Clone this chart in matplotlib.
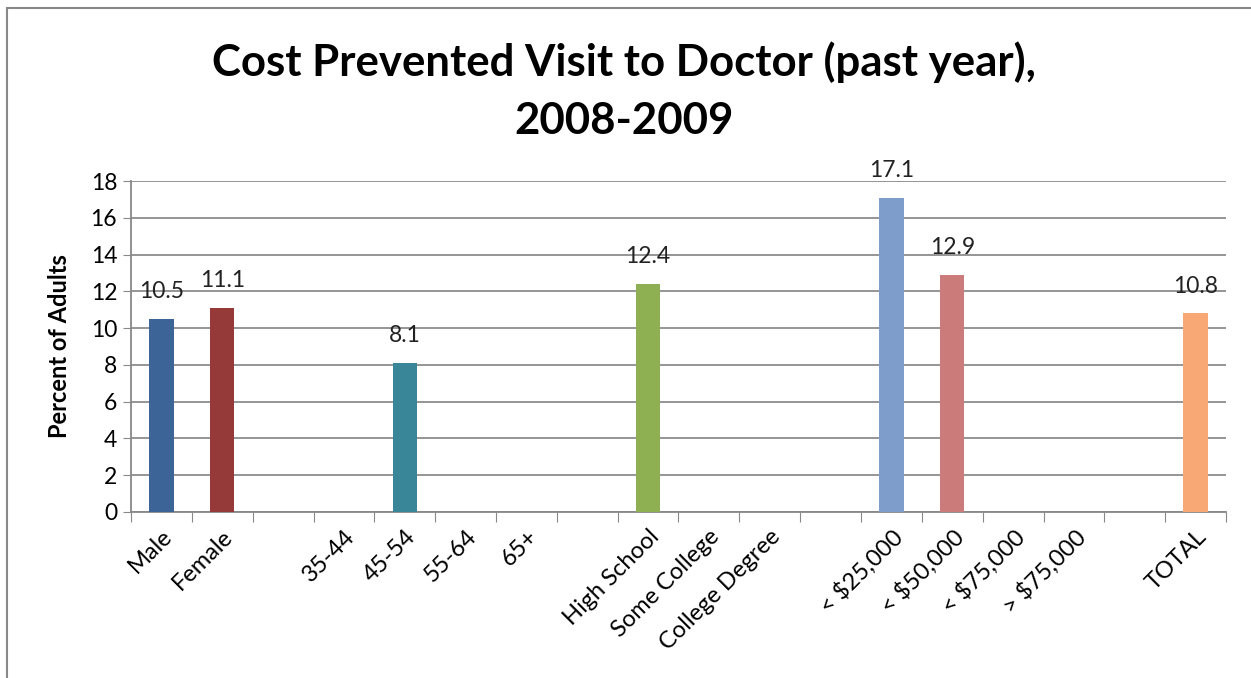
import matplotlib.pyplot as plt
from matplotlib.patches import Rectangle
import numpy as np

plt.rcParams['font.family'] = ['Lato', 'DejaVu Sans']

# categories (blank strings are the empty slots between groups)
labels = ['Male', 'Female', '', '35-44', '45-54', '55-64', '65+', '',
          'High School', 'Some College', 'College Degree', '',
          '< $25,000', '< $50,000', '< $75,000', '> $75,000', '', 'TOTAL']
values = [10.5, 11.1, None, None, 8.1, None, None, None,
          12.4, None, None, None, 17.1, 12.9, None, None, None, 10.8]
colors = ['#3C6496', '#953A38', None, None, '#3A8699', None, None, None,
          '#8FB052', None, None, None, '#7F9DCA', '#CC7B7B', None, None, None, '#F8A874']
y_ticks = [0, 2, 4, 6, 8, 10, 12, 14, 16, 18]

fig = plt.figure(figsize=(12.51, 6.78), dpi=100)
ax = fig.add_axes([131 / 1251, 1 - 512 / 678, (1226 - 131) / 1251, (512 - 181) / 678])

# outer chart border (only top/left visible in the crop)
fig.patches.append(Rectangle((7 / 1251, -0.1), 1.2, 1 - 8 / 678 + 0.1,
                             transform=fig.transFigure, fill=False,
                             edgecolor='#888888', linewidth=1.5))

x = np.arange(len(labels))
for i, v in enumerate(values):
    if v is None:
        continue
    ax.bar(x[i], v, width=0.4, color=colors[i], zorder=3)
    ax.text(x[i], v + 0.9, f'{v:.1f}', ha='center', va='bottom',
            fontsize=16.5, color='#222222')

ax.set_xlim(-0.5, len(labels) - 0.5)
ax.set_ylim(0, 18)
ax.set_yticks(y_ticks)
ax.tick_params(axis='y', labelsize=16.5, length=6, color='#888888', pad=4)
ax.yaxis.grid(True, color='#8C8C8C', linewidth=1.3, zorder=0)

# category boundaries get the tick marks; labels sit at the centers
ax.set_xticks(np.arange(len(labels) + 1) - 0.5)
ax.set_xticklabels([])
ax.tick_params(axis='x', which='major', length=7, color='#888888')
ax.set_xticks(x, minor=True)
ax.set_xticklabels(labels, minor=True, rotation=45, ha='right',
                   rotation_mode='anchor', fontsize=17)
ax.tick_params(axis='x', which='minor', length=0, pad=10)

for s in ['top', 'right']:
    ax.spines[s].set_visible(False)
for s in ['left', 'bottom']:
    ax.spines[s].set_color('#888888')
    ax.spines[s].set_linewidth(1.3)

ax.set_ylabel('Percent of Adults', fontsize=17, fontweight='bold', labelpad=14)

fig.text(0.499, 1 - 62 / 678, 'Cost Prevented Visit to Doctor (past year),',
         ha='center', va='center', fontsize=31.5, fontweight='bold')
fig.text(0.499, 1 - 121 / 678, '2008-2009',
         ha='center', va='center', fontsize=31.5, fontweight='bold')

fig.savefig('out.png', dpi=100)
